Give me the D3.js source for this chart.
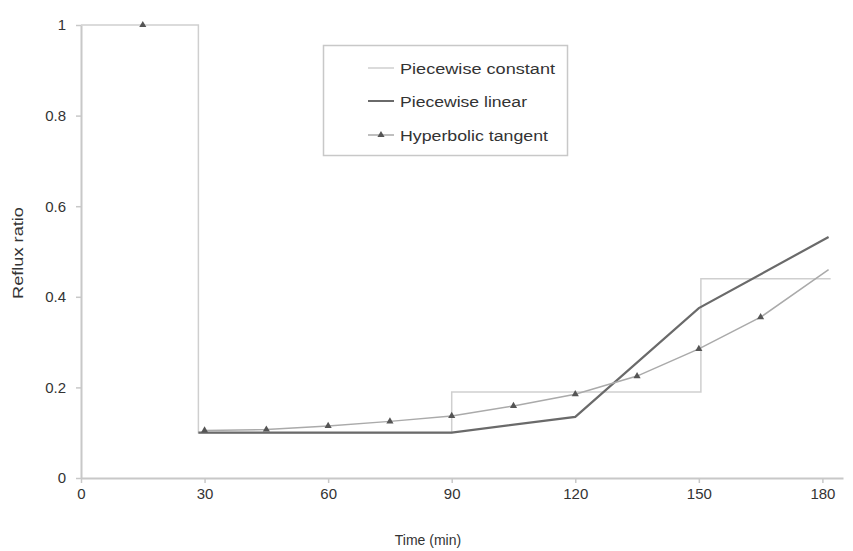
<!DOCTYPE html>
<html><head><meta charset="utf-8">
<script src="https://cdn.jsdelivr.net/npm/d3@7"></script>
<style>body{margin:0;background:#fff;} text{font-family:Arial, "Liberation Sans", sans-serif;}</style>
</head><body><svg id="c" width="853" height="551"></svg>
<script>
// Data
const xTicks = [0, 30, 60, 90, 120, 150, 180];
const yTicks = [0, 0.2, 0.4, 0.6, 0.8, 1];
const yTickLabels = ["0", "0.2", "0.4", "0.6", "0.8", "1"];
const constTimes = [0, 28.5, 90, 150.5, 182];
const constValues = [1, 0.1, 0.19, 0.44, 0.44];
const linTimes = [28.5, 60, 90, 120, 150, 181.5];
const linValues = [0.1, 0.1, 0.1, 0.135, 0.375, 0.532];
const tanhTimes = [15, 30, 45, 60, 75, 90, 105, 120, 135, 150, 165, 181.5];
const tanhValues = [1, 0.105, 0.107, 0.115, 0.125, 0.137, 0.159, 0.185, 0.225, 0.285, 0.355, 0.46];
const tanhMarked = [true, true, true, true, true, true, true, true, true, true, true, false];
const seriesNames = ["Piecewise constant", "Piecewise linear", "Hyperbolic tangent"];

const svg = d3.select("#c");
const x = d3.scaleLinear().domain([0, 185]).range([81, 843]);
const y = d3.scaleLinear().domain([0, 1]).range([478, 25]);
const axisCol = "#c8c8c8", textCol = "#333";
const ff = "Arial, 'Liberation Sans', sans-serif";

// axes
const xa = svg.append("g").attr("transform", "translate(0,478)")
  .call(d3.axisBottom(x).tickValues(xTicks).tickSize(5).tickSizeOuter(0).tickPadding(5));
const ya = svg.append("g").attr("transform", "translate(81,0)")
  .call(d3.axisLeft(y).tickValues(yTicks).tickFormat((d,i)=>yTickLabels[i]).tickSize(5).tickSizeOuter(0).tickPadding(10));
[xa, ya].forEach(g => {
  g.select(".domain").attr("stroke", axisCol).attr("stroke-width", 2);
  g.selectAll(".tick line").attr("stroke", axisCol).attr("stroke-width", 1.5);
  g.selectAll("text").attr("fill", textCol).style("font-size", "15px").style("font-family", ff);
});
svg.append("text").attr("x", 428).attr("y", 545).attr("text-anchor", "middle")
  .attr("fill", textCol).style("font-size", "14px").text("Time (min)");
svg.append("text").attr("transform", "translate(23,253) rotate(-90)").attr("text-anchor", "middle")
  .attr("fill", textCol).style("font-size", "15px").attr("textLength", 92).attr("lengthAdjust", "spacingAndGlyphs").text("Reflux ratio");

// series
const constData = constTimes.map((t,i)=>({t, v: constValues[i]}));
svg.append("path").datum(constData)
  .attr("d", d3.line().x(d=>x(d.t)).y(d=>y(d.v)).curve(d3.curveStepAfter))
  .attr("fill", "none").attr("stroke", "#cfcfcf").attr("stroke-width", 1.5);

const linData = linTimes.map((t,i)=>({t, v: linValues[i]}));
svg.append("path").datum(linData)
  .attr("d", d3.line().x(d=>x(d.t)).y(d=>y(d.v)))
  .attr("fill", "none").attr("stroke", "#6a6a6a").attr("stroke-width", 2.2);

const tanhData = tanhTimes.map((t,i)=>({t, v: tanhValues[i], m: tanhMarked[i]}));
svg.append("path").datum(tanhData.slice(1))
  .attr("d", d3.line().x(d=>x(d.t)).y(d=>y(d.v)))
  .attr("fill", "none").attr("stroke", "#aaaaaa").attr("stroke-width", 1.5);
const tri = d3.symbol().type(d3.symbolTriangle).size(22);
svg.selectAll(".mk").data(tanhData.filter(d=>d.m)).join("path").attr("class","mk")
  .attr("d", tri).attr("transform", d=>`translate(${x(d.t)},${y(d.v)})`)
  .attr("fill", "#555");

// legend
const lg = svg.append("g");
lg.append("rect").attr("x", 323.5).attr("y", 45.5).attr("width", 244).attr("height", 110)
  .attr("fill", "#fff").attr("stroke", "#c8c8c8").attr("stroke-width", 1.5);
const rows = [68, 101, 135];
const widths = [155, 127, 148];
const styles = [
  {c:"#cfcfcf", w:1.5, m:false},
  {c:"#6a6a6a", w:2, m:false},
  {c:"#aaaaaa", w:1.5, m:true}
];
seriesNames.forEach((n,i)=>{
  lg.append("line").attr("x1", 368).attr("x2", 394).attr("y1", rows[i]).attr("y2", rows[i])
    .attr("stroke", styles[i].c).attr("stroke-width", styles[i].w);
  if (styles[i].m) lg.append("path").attr("d", tri).attr("transform", `translate(381,${rows[i]})`).attr("fill", "#555");
  lg.append("text").attr("x", 400).attr("y", rows[i]+5.5).attr("fill", textCol)
    .style("font-size", "15.5px").attr("textLength", widths[i]).attr("lengthAdjust", "spacingAndGlyphs").text(n);
});
</script></body></html>
